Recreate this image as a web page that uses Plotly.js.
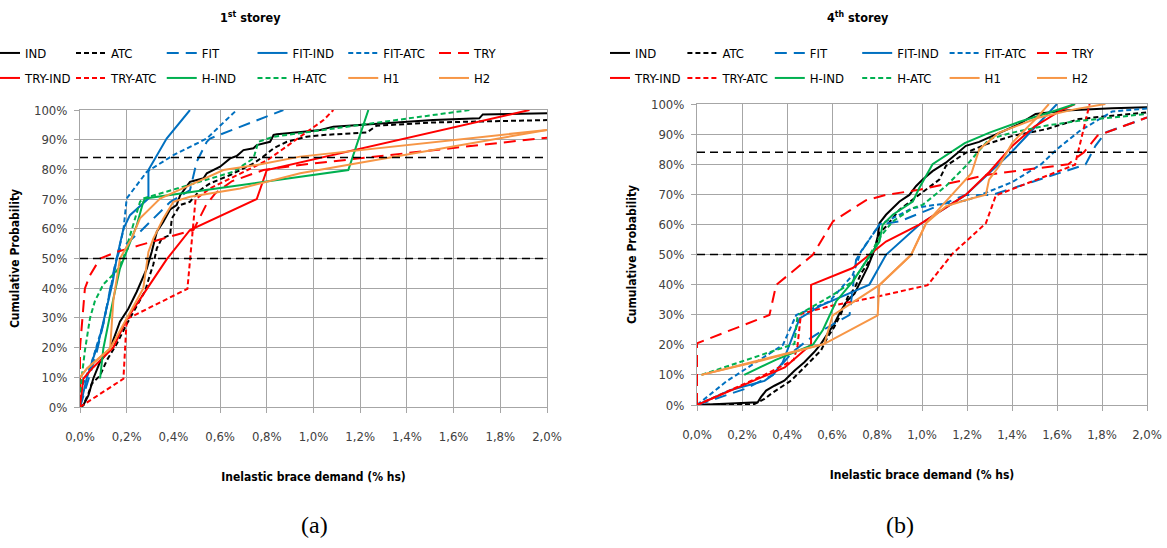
<!DOCTYPE html>
<html><head><meta charset="utf-8">
<script src="https://cdn.plot.ly/plotly-3.0.1.min.js"></script>
<style>html,body{margin:0;padding:0;background:#fff}#chart{width:1167px;height:548px}</style>
</head><body><div id="chart"></div>
<script>
// ---------- DATA ----------
const seriesNames = ['IND','ATC','FIT','FIT-IND','FIT-ATC','TRY','TRY-IND','TRY-ATC','H-IND','H-ATC','H1','H2'];
const panelTitles = ['1<sup>st</sup> storey','4<sup>th</sup> storey'];
const panelLetters = ['(a)','(b)'];
const xTitle = 'Inelastic brace demand (% hs)';
const yTitle = 'Cumulative Probability';
const refLevels = [50, 84];

// 1st storey (a)
const a_IND_x = [0,0.014,0.036,0.057,0.086,0.129,0.171,0.207,0.243,0.286,0.307,0.314,0.329,0.357,0.386,0.414,0.429,0.471,0.529,0.543,0.586,0.6,0.643,0.671,0.700,0.743,0.757,0.814,0.829,0.843,0.957,1.029,1.085,1.228,1.370,1.512,1.71,1.725,2.0];
const a_IND_y = [0,0.6,3.9,9.6,15.2,19.7,28.7,33.1,38.8,46.6,52.2,54.5,59.0,62.4,66.5,68.0,71.3,75.8,77.0,78.7,80.3,80.9,83.7,84.5,86.5,87.1,88.2,89.3,91.6,91.8,92.7,93.3,94.4,95.2,95.8,96.6,97.2,98.5,98.9];
const a_ATC_x = [0,0.014,0.036,0.05,0.086,0.114,0.157,0.2,0.243,0.279,0.3,0.314,0.329,0.35,0.386,0.393,0.429,0.471,0.514,0.557,0.643,0.743,0.793,0.829,0.886,0.971,1.043,1.228,1.27,1.512,2.0];
const a_ATC_y = [0,0.6,4.5,7.8,10.6,15.6,21.2,27.9,34.0,39.1,44.6,48,53.4,56.7,57.9,63.5,68.0,69.1,73.0,75.3,78.1,82.0,84.8,87.1,89.3,91.0,91.6,92.4,94.7,95.8,96.6];
const a_FIT_x = [0,0.03,0.07,0.10,0.13,0.15,0.17,0.257,0.386,0.471,0.5,0.543,0.557,0.671,0.871];
const a_FIT_y = [0,8,18,28,40,48,53,59,69,73,82.6,89.3,90.4,93.8,100];
const a_FITIND_x = [0,0.03,0.08,0.12,0.14,0.157,0.186,0.214,0.293,0.293,0.371,0.471];
const a_FITIND_y = [0,10,22,35,42,50,60,64.6,70.2,79.8,90.4,100];
const a_FITATC_x = [0,0.05,0.1,0.13,0.157,0.186,0.2,0.286,0.4,0.543,0.671];
const a_FITATC_y = [5,15,28,40,50,59.6,70.2,79.2,84.8,90.4,100];
const a_TRY_x = [0,0,0.021,0.043,0.086,0.157,0.257,0.357,0.457,0.486,0.54,0.58,0.65,0.786,0.943,2.0];
const a_TRY_y = [0,20,39.9,44.4,50,52.2,54.5,56.7,59,59.6,68,72,76,79.8,81.5,90.7];
const a_TRYIND_x = [0,0.014,0.057,0.143,0.2,0.279,0.371,0.471,0.757,0.8,1.925];
const a_TRYIND_y = [0,9.5,13.4,20.1,29.6,39,49.7,59.6,70,79.8,100];
const a_TRYATC_x = [0,0.186,0.2,0.46,0.495,0.557,0.8,1.043,1.085];
const a_TRYATC_y = [0,9.5,29.6,39.8,70,73.6,83,96.6,100];
const a_HIND_x = [0.086,0.1,0.143,0.171,0.243,0.271,0.279,1.149,1.235];
const a_HIND_y = [9.6,19.7,36.5,46.6,61.2,69.1,70.2,79.8,100];
const a_HATC_x = [0,0.007,0.021,0.043,0.064,0.1,0.157,0.186,0.257,0.271,0.657,0.743,0.764,0.829,1.043,1.67];
const a_HATC_y = [5,10,19,30,35.7,41.3,45.8,50.2,69.1,70.2,79.2,83.7,89.3,91,93.3,100];
const a_H1_x = [0,0.03,0.129,0.143,0.171,0.221,0.257,0.343,0.471,0.614,0.757,0.943,2.0];
const a_H1_y = [10,13,19.7,36,50,56.7,63.5,70.2,74.7,79.8,81.5,84.3,93.3];
const a_H2_x = [0,0.03,0.129,0.2,0.271,0.293,0.314,0.357,0.4,0.471,0.686,0.943,2.0];
const a_H2_y = [10,13,19.7,30,39.9,52.2,56.7,63.5,69.1,70.8,73.6,78.7,93.3];

// 4th storey (b)
const b_IND_x = [0,0.27,0.284,0.307,0.344,0.388,0.433,0.477,0.521,0.551,0.581,0.61,0.64,0.67,0.7,0.729,0.759,0.788,0.803,0.811,0.84,0.9,0.944,0.973,1.003,1.047,1.106,1.151,1.195,1.254,1.343,1.431,1.505,1.638,1.845,2.0];
const b_IND_y = [0,0.9,2.6,4.8,6.4,8.1,11.4,14.2,17.6,20.3,23.7,27,31.4,34.8,37,41.4,45.9,51.4,55.9,60.4,63.2,67.6,69.8,72.7,74.9,77.7,80.5,83.3,86.1,87.4,90.5,93.3,96.7,97.8,98.6,98.9];
const b_ATC_x = [0,0.255,0.3,0.329,0.373,0.418,0.462,0.507,0.551,0.581,0.61,0.64,0.67,0.7,0.729,0.759,0.788,0.811,0.84,0.9,0.959,1.018,1.077,1.106,1.195,1.284,1.402,1.55,1.697,1.845,2.0];
const b_ATC_y = [0,0.3,2,3.7,5.9,8.1,11.4,14.8,18.1,22.6,25.9,30.3,35.9,38.7,43.7,47,51.4,57.1,59.3,64.9,68.2,71.6,74.9,79.4,83.8,86.6,89.4,91.6,95,96.1,97.2];
const b_FIT_x = [0,0.219,0.337,0.426,0.5,0.574,0.678,0.707,0.73,0.811,0.9,1.0,1.194,1.312,1.727,1.771,1.815,2.0];
const b_FIT_y = [0,5.5,10,17.7,22,25.5,29.9,48.2,51,59.9,61,64,69.8,69.8,79.9,86.1,90.5,95.5];
const b_FITIND_x = [0,0.15,0.3,0.337,0.381,0.456,0.55,0.66,0.766,0.84,0.988,1.194,1.386,1.6];
const b_FITIND_y = [0,5,8,10,14.2,28.8,33,36.5,40,49.9,59.9,69.8,83.1,100];
const b_FITATC_x = [0,0.13,0.382,0.441,0.589,0.692,0.729,0.81,0.959,1.2,1.4,1.53,1.6,1.7,1.845,2.0];
const b_FITATC_y = [0,7.8,20,29.9,34.4,43.2,51,59.9,65.4,68,74,80,85,91,97.5,98.5];
const b_TRY_x = [0,0,0.322,0.352,0.515,0.604,0.75,0.84,0.988,1.3,1.6,1.65,1.72,1.78,2.0];
const b_TRY_y = [0,20.5,29.9,39.9,49.9,61,68,69.8,71.5,76.6,79.5,80,84,89.5,95.5];
const b_TRYIND_x = [0,0.39,0.49,0.507,0.507,0.692,0.84,0.988,1.194,1.3,1.4,1.5,1.62,1.68];
const b_TRYIND_y = [0,12.5,19,20,39.9,45.5,54.3,59.9,69.8,77.5,86,92.5,98,100];
const b_TRYATC_x = [0,0.3,0.43,0.447,0.462,0.6,0.8,1.025,1.136,1.284,1.328,1.68,1.745];
const b_TRYATC_y = [0,10,15,19.8,30.3,33,36,39.8,50.3,60.4,69.6,79.8,100];
const b_HIND_x = [0.21,0.35,0.515,0.56,0.618,0.692,0.751,0.811,0.825,0.87,0.959,0.988,1.047,1.19,1.3,1.43,1.58,1.68];
const b_HIND_y = [10,15,20,25,34.4,41,47.7,54.3,59.9,63.2,67.6,72.1,80,87,90.5,94,97.5,100];
const b_HATC_x = [0.02,0.433,0.447,0.604,0.692,0.751,0.81,0.87,0.959,1.003,1.106,1.195,1.298,1.402,1.55,1.697,1.845,2.0];
const b_HATC_y = [10,20.3,29.8,36.6,41,47.7,55.4,61,65.4,66.5,72.7,79.4,88.3,90.5,92.8,94.4,95.5,96.7];
const b_H1_x = [0.02,0.3,0.566,0.603,0.81,0.951,1.018,1.106,1.2,1.284,1.298,1.343,1.402,1.505,1.564];
const b_H1_y = [10,15,20.3,29.8,39.8,49.8,60.4,66,68.2,69.9,74.9,79.4,87.2,95,100];
const b_H2_x = [0.02,0.4,0.566,0.803,0.81,0.951,1.018,1.22,1.254,1.343,1.52,1.682,1.815];
const b_H2_y = [10,17,20.3,29.8,39.8,49.8,60.4,77,84.9,90.5,95.5,98.3,100];

const panelA = [[a_IND_x,a_IND_y],[a_ATC_x,a_ATC_y],[a_FIT_x,a_FIT_y],[a_FITIND_x,a_FITIND_y],[a_FITATC_x,a_FITATC_y],[a_TRY_x,a_TRY_y],[a_TRYIND_x,a_TRYIND_y],[a_TRYATC_x,a_TRYATC_y],[a_HIND_x,a_HIND_y],[a_HATC_x,a_HATC_y],[a_H1_x,a_H1_y],[a_H2_x,a_H2_y]];
const panelB = [[b_IND_x,b_IND_y],[b_ATC_x,b_ATC_y],[b_FIT_x,b_FIT_y],[b_FITIND_x,b_FITIND_y],[b_FITATC_x,b_FITATC_y],[b_TRY_x,b_TRY_y],[b_TRYIND_x,b_TRYIND_y],[b_TRYATC_x,b_TRYATC_y],[b_HIND_x,b_HIND_y],[b_HATC_x,b_HATC_y],[b_H1_x,b_H1_y],[b_H2_x,b_H2_y]];

// ---------- STYLE ----------
const BLACK='#000000', BLUE='#0070C0', RED='#FF0000', GREEN='#00B050', ORANGE='#F79646';
const SHORT='5px,3px', LONG='12px,7px';
const styles = {
  'IND':[BLACK,'solid'],'ATC':[BLACK,SHORT],'FIT':[BLUE,LONG],'FIT-IND':[BLUE,'solid'],'FIT-ATC':[BLUE,SHORT],
  'TRY':[RED,LONG],'TRY-IND':[RED,'solid'],'TRY-ATC':[RED,SHORT],'H-IND':[GREEN,'solid'],'H-ATC':[GREEN,SHORT],
  'H1':[ORANGE,'solid'],'H2':[ORANGE,'solid']
};
const FONT = '"Liberation Sans Narrow","DejaVu Sans Condensed",Arial,sans-serif';
const GRID = '#a6a6a6';

const traces = [];
[panelA, panelB].forEach((panel, p) => {
  panel.forEach((xy, i) => {
    const name = seriesNames[i];
    const legendId = p === 0 ? (i < 6 ? 'legend' : 'legend2') : (i < 6 ? 'legend3' : 'legend4');
    const t = {
      type:'scatter', mode:'lines', name:name, x:xy[0], y:xy[1],
      xaxis: p === 0 ? 'x' : 'x2', yaxis: p === 0 ? 'y' : 'y2',
      legend: legendId,
      line:{color:styles[name][0], dash:styles[name][1], width:2},
      hoverinfo:'skip'
    };
    // first column of the left legends starts at the page edge: slightly narrower entry
    if (p === 0 && (i === 0 || i === 6)) t.legendwidth = 56;
    traces.push(t);
  });
});

function xAx(domain){
  return {domain:domain, range:[0,2], tick0:0, dtick:0.2, tickformat:'.1f', ticksuffix:'%',
    showgrid:true, gridcolor:GRID, gridwidth:1, zeroline:false, showline:true, mirror:true, linecolor:GRID, linewidth:1,
    ticks:'outside', ticklen:5, tickcolor:GRID, ticklabelstandoff:12,
    tickfont:{family:FONT, size:13, color:'#404040'},
    title:{text:xTitle, standoff:30, font:{family:FONT, size:12, color:'#000', weight:'bold'}}, fixedrange:true};
}
function yAx(domain, anchor){
  return {domain:domain, anchor:anchor, range:[0,100], tick0:0, dtick:10, ticksuffix:'%',
    showgrid:true, gridcolor:GRID, gridwidth:1, zeroline:false, showline:true, mirror:true, linecolor:GRID, linewidth:1,
    ticks:'outside', ticklen:5, tickcolor:GRID, ticklabelstandoff:4,
    tickfont:{family:FONT, size:13, color:'#404040'},
    title:{text:yTitle, standoff:11, font:{family:FONT, size:12, color:'#000', weight:'bold'}}, fixedrange:true};
}

const W = 1167, H = 548;
const xdA = [80/W, 547/W], xdB = [697/W, 1147/W];
const ydA = [1-407/H, 1-110/H], ydB = [1-405/H, 1-104/H];

const shapes = [];
[['x','y'],['x2','y2']].forEach(([xa,ya]) => {
  refLevels.forEach(lv => {
    shapes.push({type:'line', xref:xa+' domain', x0:0, x1:1, yref:ya, y0:lv, y1:lv,
      line:{color:'#000', width:1.5, dash:'8px,5px'}, layer:'above'});
  });
});

function leg(xpx, ypx, ew){
  return {orientation:'h', xref:'container', yref:'container', x:xpx/W, y:1-ypx/H, xanchor:'left', yanchor:'middle',
    entrywidth:ew, entrywidthmode:'pixels', indentation:-15, bgcolor:'rgba(0,0,0,0)', borderwidth:0, traceorder:'normal',
    font:{family:FONT, size:13, color:'#000'}, itemclick:false, itemdoubleclick:false};
}

const layout = {
  width:W, height:H, paper_bgcolor:'#fff', plot_bgcolor:'#fff',
  margin:{l:0, r:0, t:0, b:0, autoexpand:false},
  separators:',.', showlegend:true,
  xaxis:Object.assign(xAx(xdA),{anchor:'y'}), yaxis:yAx(ydA,'x'),
  xaxis2:Object.assign(xAx(xdB),{anchor:'y2'}), yaxis2:yAx(ydB,'x2'),
  legend:leg(0, 53, 60.75), legend2:leg(0, 78, 60.75),
  legend3:leg(610, 53, 57.4), legend4:leg(610, 78, 57.4),
  shapes:shapes,
  annotations:[
    {text:panelTitles[0], xref:'paper', yref:'paper', x:250/W, y:1-17/H, showarrow:false, xanchor:'center', yanchor:'middle', font:{family:FONT, size:12.5, color:'#000', weight:'bold'}},
    {text:panelTitles[1], xref:'paper', yref:'paper', x:858/W, y:1-17/H, showarrow:false, xanchor:'center', yanchor:'middle', font:{family:FONT, size:12.5, color:'#000', weight:'bold'}},
    {text:panelLetters[0], xref:'paper', yref:'paper', x:314/W, y:1-525/H, showarrow:false, xanchor:'center', yanchor:'middle', font:{family:'"Liberation Serif","Times New Roman",serif', size:24, color:'#000'}},
    {text:panelLetters[1], xref:'paper', yref:'paper', x:900/W, y:1-525/H, showarrow:false, xanchor:'center', yanchor:'middle', font:{family:'"Liberation Serif","Times New Roman",serif', size:24, color:'#000'}}
  ]
};

Plotly.newPlot('chart', traces, layout, {displayModeBar:false, staticPlot:true});
</script></body></html>
